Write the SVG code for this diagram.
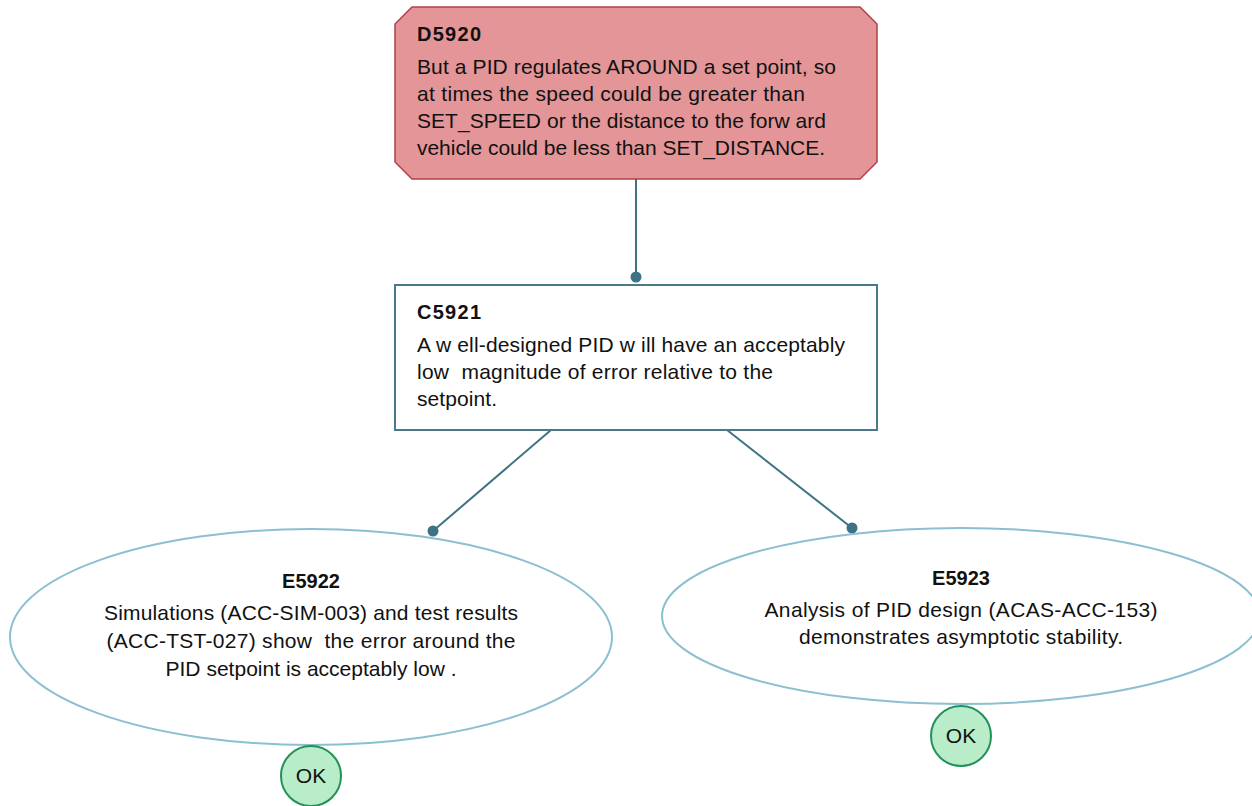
<svg xmlns="http://www.w3.org/2000/svg" width="1252" height="806" viewBox="0 0 1252 806">
  <style>
    text { font-family: "Liberation Sans", Arial, sans-serif; font-size: 21px; fill: #111; white-space: pre; }
    .title { font-weight: bold; font-size: 20px; }
    .mid { text-anchor: middle; }
    .defeater { fill: #e39597; stroke: #b3404b; stroke-width: 1.5; }
    .context { fill: #ffffff; stroke: #4a7a8a; stroke-width: 2; }
    .evidence { fill: #ffffff; stroke: #8cbfd0; stroke-width: 2; }
    .ok { fill: #b9ecc8; stroke: #23915a; stroke-width: 2; }
    .edge { stroke: #3d7384; stroke-width: 2; fill: none; }
    .dot { fill: #3d7384; }
  </style>

  <rect width="1252" height="806" fill="#ffffff"/>

  <!-- connectors -->
  <g id="connectors">
    <line class="edge" x1="636" y1="179" x2="636" y2="277"/>
    <circle class="dot" cx="636" cy="277" r="5.5"/>
    <line class="edge" x1="551" y1="430" x2="433" y2="531"/>
    <circle class="dot" cx="433" cy="531" r="5.5"/>
    <line class="edge" x1="727" y1="430" x2="852" y2="528"/>
    <circle class="dot" cx="852" cy="528" r="5.5"/>
  </g>

  <!-- defeater -->
  <g id="D5920">
    <polygon class="defeater" points="412,7 860,7 877,24 877,162 860,179 412,179 395,162 395,24"/>
    <text class="title" x="417" y="41" textLength="64">D5920</text>
    <text x="417" y="74" textLength="419">But a PID regulates AROUND a set point, so</text>
    <text x="417" y="101" textLength="388">at times the speed could be greater than</text>
    <text x="417" y="128" textLength="409">SET_SPEED or the distance to the forw ard</text>
    <text x="417" y="155" textLength="408">vehicle could be less than SET_DISTANCE.</text>
  </g>

  <!-- context -->
  <g id="C5921">
    <rect class="context" x="395" y="285" width="482" height="145"/>
    <text class="title" x="417" y="319" textLength="64">C5921</text>
    <text x="417" y="352" textLength="428">A w ell-designed PID w ill have an acceptably</text>
    <text x="417" y="379" textLength="356">low  magnitude of error relative to the</text>
    <text x="417" y="406" textLength="80">setpoint.</text>
  </g>

  <!-- evidence -->
  <g id="E5922">
    <ellipse class="evidence" cx="311" cy="637" rx="301" ry="108"/>
    <text class="title mid" x="311" y="588">E5922</text>
    <text class="mid" x="311" y="620" textLength="414">Simulations (ACC-SIM-003) and test results</text>
    <text class="mid" x="311" y="648" textLength="409">(ACC-TST-027) show  the error around the</text>
    <text class="mid" x="311" y="676" textLength="291">PID setpoint is acceptably low .</text>
  </g>
  <g id="E5922-status">
    <circle class="ok" cx="311" cy="776" r="30"/>
    <text class="mid" x="311" y="783">OK</text>
  </g>

  <g id="E5923">
    <ellipse class="evidence" cx="961" cy="616" rx="299" ry="88"/>
    <text class="title mid" x="961" y="585">E5923</text>
    <text class="mid" x="961" y="617" textLength="393">Analysis of PID design (ACAS-ACC-153)</text>
    <text class="mid" x="961" y="644" textLength="324">demonstrates asymptotic stability.</text>
  </g>
  <g id="E5923-status">
    <circle class="ok" cx="961" cy="736" r="30"/>
    <text class="mid" x="961" y="743">OK</text>
  </g>
</svg>
